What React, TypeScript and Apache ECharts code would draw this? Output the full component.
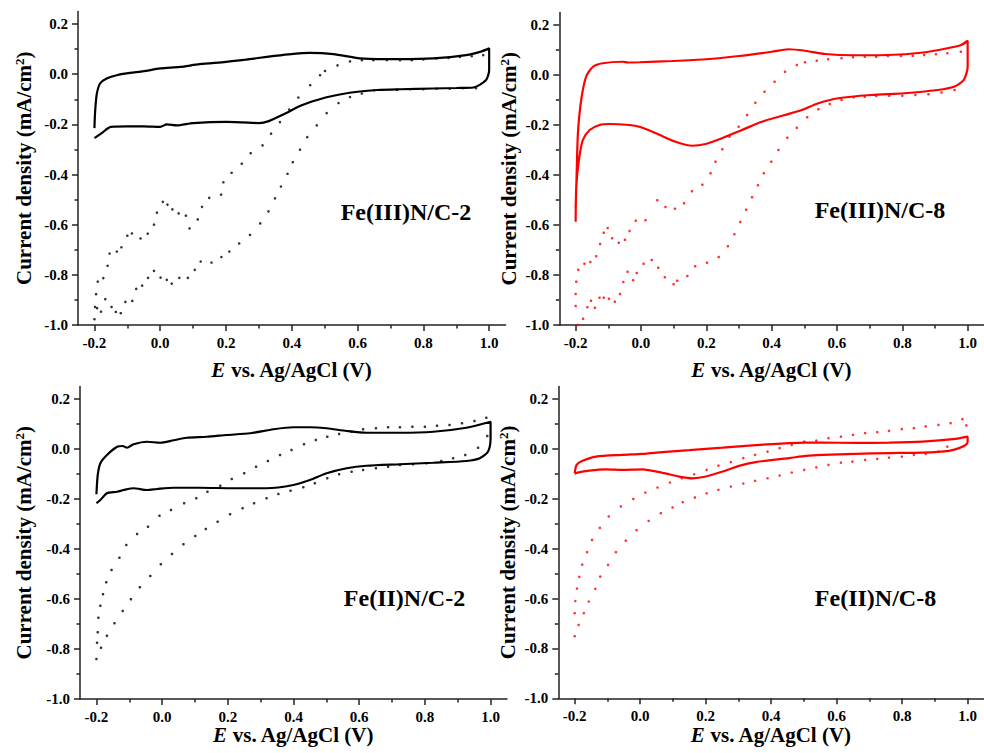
import React, { useEffect, useRef } from 'react';
import * as echarts from 'echarts';

// ---------- tick values ----------
const xTicks = [-0.2, 0, 0.2, 0.4, 0.6, 0.8, 1.0];
const yTicks = [-1.0, -0.8, -0.6, -0.4, -0.2, 0, 0.2];

const panelLabels = ['Fe(III)N/C-2', 'Fe(III)N/C-8', 'Fe(II)N/C-2', 'Fe(II)N/C-8'];
const xTitle = '{i|E}{n| vs. Ag/AgCl (V)}';
const yTitle = 'Current density (mA/cm{s|2})';

// ---------- Panel 1: Fe(III)N/C-2 ----------
const p1Solid = [
  [-0.2, -0.215], [-0.198, -0.15], [-0.193, -0.08], [-0.183, -0.037], [-0.163, -0.017], [-0.13, -0.003],
  [-0.092, 0.005], [-0.05, 0.012], [0.0, 0.023], [0.06, 0.029], [0.12, 0.04], [0.2, 0.049], [0.26, 0.058],
  [0.324, 0.069], [0.39, 0.079], [0.455, 0.085], [0.526, 0.08], [0.607, 0.063], [0.68, 0.06], [0.73, 0.06],
  [0.83, 0.063], [0.93, 0.076], [0.975, 0.09], [1.0, 0.103],
  [1.0, 0.06], [1.0, 0.016], [0.99, -0.024], [0.952, -0.053], [0.9, -0.055], [0.83, -0.057], [0.73, -0.06],
  [0.66, -0.063], [0.6, -0.07], [0.55, -0.08], [0.5, -0.094], [0.43, -0.124], [0.38, -0.157], [0.33, -0.187],
  [0.3, -0.195], [0.25, -0.192], [0.2, -0.19], [0.1, -0.195], [0.05, -0.204], [0.02, -0.2], [0.0, -0.21],
  [-0.05, -0.208], [-0.1, -0.208], [-0.15, -0.21], [-0.18, -0.237], [-0.2, -0.255],
];
const p1Dots = [
  [-0.2, -0.977], [-0.195, -0.877], [-0.19, -0.827], [-0.173, -0.813], [-0.16, -0.764], [-0.154, -0.715],
  [-0.132, -0.707], [-0.118, -0.69], [-0.1, -0.644], [-0.086, -0.635], [-0.06, -0.655], [-0.038, -0.636],
  [-0.019, -0.6], [-0.01, -0.552], [0.008, -0.509], [0.022, -0.52], [0.037, -0.539], [0.056, -0.555],
  [0.078, -0.564], [0.089, -0.615], [0.114, -0.579], [0.127, -0.529], [0.149, -0.493], [0.185, -0.48],
  [0.192, -0.431], [0.217, -0.393], [0.248, -0.357], [0.275, -0.315], [0.311, -0.284], [0.337, -0.237],
  [0.364, -0.191], [0.392, -0.141], [0.42, -0.093], [0.456, -0.044], [0.486, -0.004], [0.501, 0.013],
  [0.539, 0.035], [0.577, 0.051], [0.613, 0.056], [0.648, 0.056], [0.689, 0.056], [0.729, 0.056],
  [0.765, 0.056], [0.8, 0.059], [0.84, 0.063], [0.876, 0.065], [0.911, 0.069], [0.947, 0.072], [0.982, 0.076],
  [0.96, -0.056], [0.92, -0.056], [0.88, -0.058], [0.84, -0.058], [0.8, -0.06], [0.76, -0.06], [0.72, -0.062],
  [0.65, -0.064], [0.613, -0.077], [0.577, -0.091], [0.542, -0.115], [0.506, -0.155], [0.476, -0.204],
  [0.447, -0.251], [0.425, -0.301], [0.403, -0.351], [0.387, -0.397], [0.367, -0.448], [0.349, -0.495],
  [0.329, -0.547], [0.304, -0.595], [0.273, -0.641], [0.24, -0.675], [0.21, -0.707], [0.186, -0.729],
  [0.156, -0.751], [0.123, -0.747], [0.105, -0.78], [0.084, -0.812], [0.058, -0.812], [0.035, -0.835],
  [0.02, -0.82], [0.001, -0.811], [-0.019, -0.784], [-0.037, -0.812], [-0.055, -0.843], [-0.073, -0.856],
  [-0.085, -0.904], [-0.106, -0.908], [-0.12, -0.953], [-0.135, -0.948], [-0.148, -0.928], [-0.167, -0.897],
  [-0.18, -0.947], [-0.192, -0.933], [-0.198, -0.928],
];

// ---------- Panel 2: Fe(III)N/C-8 ----------
const p2Solid = [
  [-0.2, -0.533], [-0.197, -0.4], [-0.193, -0.233], [-0.183, -0.1], [-0.168, -0.007], [-0.147, 0.033],
  [-0.117, 0.047], [-0.056, 0.053], [-0.04, 0.05], [-0.005, 0.051], [0.096, 0.056], [0.198, 0.063],
  [0.3, 0.076], [0.4, 0.093], [0.451, 0.103], [0.502, 0.097], [0.563, 0.084], [0.654, 0.079], [0.756, 0.08],
  [0.857, 0.089], [0.938, 0.107], [0.98, 0.12], [1.0, 0.137],
  [1.0, 0.08], [1.0, 0.033], [0.988, -0.02], [0.958, -0.047], [0.908, -0.06], [0.807, -0.073], [0.705, -0.08],
  [0.604, -0.093], [0.543, -0.113], [0.492, -0.14], [0.441, -0.16], [0.37, -0.187], [0.309, -0.22],
  [0.248, -0.253], [0.198, -0.276], [0.157, -0.283], [0.106, -0.267], [0.046, -0.233], [-0.005, -0.207],
  [-0.036, -0.2], [-0.097, -0.196], [-0.127, -0.2], [-0.157, -0.22], [-0.178, -0.26], [-0.19, -0.34],
  [-0.198, -0.447], [-0.2, -0.587],
];
const p2Dots = [
  [-0.2, -0.924], [-0.2, -0.876], [-0.198, -0.827], [-0.192, -0.779], [-0.173, -0.755], [-0.155, -0.748],
  [-0.137, -0.725], [-0.125, -0.676], [-0.114, -0.631], [-0.102, -0.612], [-0.088, -0.653], [-0.068, -0.671],
  [-0.049, -0.659], [-0.035, -0.624], [-0.016, -0.583], [0.014, -0.581], [0.05, -0.501], [0.075, -0.528],
  [0.104, -0.535], [0.132, -0.513], [0.156, -0.465], [0.188, -0.439], [0.213, -0.393], [0.228, -0.347],
  [0.249, -0.297], [0.271, -0.247], [0.299, -0.207], [0.325, -0.16], [0.35, -0.111], [0.378, -0.067],
  [0.409, -0.027], [0.441, 0.013], [0.477, 0.04], [0.502, 0.051], [0.538, 0.057], [0.573, 0.063],
  [0.614, 0.067], [0.649, 0.071], [0.685, 0.073], [0.72, 0.073], [0.756, 0.076], [0.796, 0.076],
  [0.832, 0.077], [0.867, 0.08], [0.903, 0.083], [0.938, 0.087], [0.979, 0.093],
  [0.96, -0.06], [0.92, -0.07], [0.88, -0.077], [0.84, -0.08], [0.8, -0.083], [0.76, -0.083], [0.72, -0.084],
  [0.685, -0.087], [0.651, -0.089], [0.614, -0.1], [0.578, -0.116], [0.543, -0.137], [0.509, -0.169],
  [0.477, -0.211], [0.448, -0.251], [0.421, -0.3], [0.399, -0.347], [0.376, -0.393], [0.358, -0.441],
  [0.34, -0.489], [0.322, -0.539], [0.304, -0.588], [0.286, -0.637], [0.266, -0.685], [0.238, -0.728],
  [0.202, -0.751], [0.166, -0.765], [0.142, -0.804], [0.111, -0.823], [0.1, -0.837], [0.073, -0.809],
  [0.053, -0.771], [0.033, -0.74], [0.008, -0.755], [-0.013, -0.792], [-0.024, -0.821], [-0.041, -0.787],
  [-0.054, -0.828], [-0.064, -0.876], [-0.08, -0.907], [-0.098, -0.895], [-0.114, -0.891], [-0.127, -0.891],
  [-0.141, -0.931], [-0.153, -0.903], [-0.164, -0.929], [-0.177, -0.975], [-0.194, -1.0],
];

// ---------- Panel 3: Fe(II)N/C-2 ----------
const p3Solid = [
  [-0.2, -0.181], [-0.196, -0.104], [-0.188, -0.057], [-0.168, -0.024], [-0.137, 0.009], [-0.12, 0.012],
  [-0.107, 0.005], [-0.087, 0.019], [-0.046, 0.029], [-0.006, 0.025], [0.035, 0.035], [0.075, 0.045],
  [0.136, 0.049], [0.197, 0.056], [0.268, 0.063], [0.339, 0.079], [0.4, 0.087], [0.45, 0.087], [0.501, 0.083],
  [0.562, 0.072], [0.622, 0.065], [0.724, 0.065], [0.825, 0.069], [0.926, 0.085], [1.0, 0.109],
  [1.0, 0.043], [0.992, -0.011], [0.967, -0.037], [0.926, -0.048], [0.825, -0.055], [0.724, -0.061],
  [0.622, -0.067], [0.562, -0.077], [0.501, -0.097], [0.45, -0.124], [0.4, -0.144], [0.318, -0.157],
  [0.217, -0.157], [0.116, -0.155], [0.035, -0.155], [-0.016, -0.16], [-0.046, -0.164], [-0.087, -0.157],
  [-0.117, -0.164], [-0.137, -0.171], [-0.168, -0.177], [-0.188, -0.204], [-0.2, -0.217],
];
const p3Dots = [
  [-0.2, -0.84], [-0.198, -0.775], [-0.196, -0.733], [-0.194, -0.675], [-0.188, -0.627], [-0.18, -0.581],
  [-0.17, -0.533], [-0.154, -0.484], [-0.13, -0.435], [-0.109, -0.384], [-0.076, -0.34], [-0.043, -0.311],
  [-0.008, -0.267], [0.027, -0.244], [0.067, -0.217], [0.104, -0.197], [0.138, -0.171], [0.177, -0.147],
  [0.212, -0.12], [0.25, -0.097], [0.286, -0.071], [0.322, -0.048], [0.359, -0.024], [0.394, -0.004],
  [0.432, 0.019], [0.468, 0.036], [0.503, 0.049], [0.539, 0.06], [0.577, 0.069], [0.612, 0.079],
  [0.651, 0.083], [0.688, 0.087], [0.724, 0.087], [0.762, 0.089], [0.8, 0.089], [0.837, 0.093],
  [0.875, 0.096], [0.913, 0.103], [0.951, 0.112], [0.987, 0.125],
  [0.99, 0.052], [0.962, 0.005], [0.923, -0.024], [0.886, -0.037], [0.85, -0.048], [0.805, -0.057],
  [0.764, -0.061], [0.724, -0.064], [0.688, -0.071], [0.651, -0.077], [0.612, -0.084], [0.577, -0.091],
  [0.539, -0.101], [0.503, -0.117], [0.465, -0.137], [0.43, -0.153], [0.391, -0.167], [0.354, -0.18],
  [0.318, -0.197], [0.28, -0.217], [0.245, -0.237], [0.207, -0.261], [0.169, -0.291], [0.133, -0.32],
  [0.101, -0.348], [0.065, -0.381], [0.03, -0.42], [-0.004, -0.461], [-0.036, -0.508], [-0.068, -0.553],
  [-0.095, -0.601], [-0.12, -0.648], [-0.145, -0.697], [-0.168, -0.747], [-0.186, -0.795],
];

// ---------- Panel 4: Fe(II)N/C-8 ----------
const p4Solid = [
  [-0.2, -0.098], [-0.194, -0.064], [-0.176, -0.048], [-0.135, -0.031], [-0.054, -0.024], [0.007, -0.02],
  [0.068, -0.013], [0.15, -0.005], [0.252, 0.005], [0.353, 0.015], [0.455, 0.023], [0.506, 0.025],
  [0.557, 0.025], [0.658, 0.024], [0.76, 0.025], [0.862, 0.029], [0.963, 0.04], [1.0, 0.049],
  [1.0, 0.029], [0.994, 0.016], [0.974, 0.003], [0.943, -0.008], [0.862, -0.015], [0.76, -0.017],
  [0.658, -0.02], [0.557, -0.024], [0.506, -0.028], [0.455, -0.037], [0.353, -0.053], [0.302, -0.068],
  [0.252, -0.091], [0.201, -0.111], [0.16, -0.118], [0.119, -0.111], [0.068, -0.096], [0.007, -0.082],
  [-0.054, -0.084], [-0.104, -0.082], [-0.155, -0.087], [-0.191, -0.095], [-0.2, -0.1],
];
const p4Dots = [
  [-0.2, -0.751], [-0.2, -0.659], [-0.198, -0.61], [-0.193, -0.56], [-0.186, -0.513], [-0.177, -0.464],
  [-0.162, -0.414], [-0.147, -0.365], [-0.123, -0.317], [-0.096, -0.271], [-0.059, -0.231], [-0.021, -0.201],
  [0.016, -0.175], [0.053, -0.155], [0.091, -0.135], [0.127, -0.118], [0.165, -0.102], [0.203, -0.084],
  [0.239, -0.067], [0.277, -0.053], [0.315, -0.037], [0.351, -0.024], [0.389, -0.011], [0.426, 0.003],
  [0.463, 0.016], [0.501, 0.029], [0.538, 0.033], [0.575, 0.043], [0.613, 0.049], [0.65, 0.056],
  [0.687, 0.063], [0.724, 0.067], [0.76, 0.072], [0.799, 0.079], [0.836, 0.083], [0.872, 0.09],
  [0.911, 0.096], [0.948, 0.103], [0.984, 0.119], [0.996, 0.094],
  [0.938, 0.009], [0.911, -0.011], [0.872, -0.02], [0.836, -0.024], [0.799, -0.031], [0.76, -0.035],
  [0.724, -0.04], [0.687, -0.044], [0.648, -0.051], [0.613, -0.055], [0.575, -0.064], [0.538, -0.074],
  [0.501, -0.084], [0.463, -0.095], [0.426, -0.107], [0.389, -0.118], [0.351, -0.128], [0.315, -0.139],
  [0.277, -0.151], [0.239, -0.164], [0.203, -0.178], [0.167, -0.195], [0.13, -0.214], [0.099, -0.235],
  [0.063, -0.258], [0.026, -0.289], [-0.011, -0.326], [-0.044, -0.368], [-0.074, -0.414], [-0.098, -0.465],
  [-0.122, -0.512], [-0.137, -0.561], [-0.157, -0.612], [-0.172, -0.659], [-0.188, -0.706],
];

const solids = [p1Solid, p2Solid, p3Solid, p4Solid];
const dots = [p1Dots, p2Dots, p3Dots, p4Dots];

// ---------- layout / style ----------
const FONT = "'Liberation Serif', 'Times New Roman', serif";
const colors = ['#000000', '#ff0000', '#000000', '#ff0000'];
const grids = [
  { left: 78, top: 11.5, width: 427.6, height: 313.5 },
  { left: 559.3, top: 12.5, width: 427.3, height: 312.5 },
  { left: 80, top: 386.5, width: 427, height: 312.5 },
  { left: 558.3, top: 386.5, width: 427.4, height: 311.8 },
];
const xNameGaps = [34, 34, 24, 24];
const yNameGaps = [44, 40, 46, 40];
const labelPos = [
  [406, 212],
  [880, 210],
  [404.5, 598],
  [875.5, 598],
];

const axisLineStyle = { color: '#222', width: 1.5 };

function makeX(i: number) {
  return {
    type: 'value',
    gridIndex: i,
    min: -0.25,
    max: 1.05,
    splitNumber: 6,
    name: xTitle,
    nameLocation: 'middle',
    nameGap: xNameGaps[i],
    nameTextStyle: {
      rich: {
        i: { fontStyle: 'italic', fontWeight: 'bold', fontSize: 21, fontFamily: FONT, color: '#000' },
        n: { fontWeight: 'bold', fontSize: 21, fontFamily: FONT, color: '#000' },
      },
    },
    axisLine: { show: true, onZero: false, lineStyle: axisLineStyle },
    axisTick: { show: true, inside: false, length: 6, customValues: xTicks, lineStyle: axisLineStyle },
    minorTick: { show: true, splitNumber: 2, length: 3.5, lineStyle: axisLineStyle },
    axisLabel: {
      customValues: xTicks,
      formatter: (v: number) => v.toFixed(1),
      fontSize: 15,
      fontWeight: 'bold',
      fontFamily: FONT,
      color: '#000',
      margin: 10,
    },
    splitLine: { show: false },
    minorSplitLine: { show: false },
  };
}

function makeY(i: number) {
  return {
    type: 'value',
    gridIndex: i,
    min: -1.0,
    max: 0.25,
    splitNumber: 6,
    name: yTitle,
    nameLocation: 'middle',
    nameGap: yNameGaps[i],
    nameTextStyle: {
      fontWeight: 'bold',
      fontSize: 21,
      fontFamily: FONT,
      color: '#000',
      rich: {
        s: { fontWeight: 'bold', fontSize: 13, fontFamily: FONT, color: '#000', verticalAlign: 'top' },
      },
    },
    axisLine: { show: true, onZero: false, lineStyle: axisLineStyle },
    axisTick: { show: true, inside: false, length: 6, customValues: yTicks, lineStyle: axisLineStyle },
    minorTick: { show: true, splitNumber: 2, length: 3.5, lineStyle: axisLineStyle },
    axisLabel: {
      customValues: yTicks,
      formatter: (v: number) => v.toFixed(1),
      fontSize: 15,
      fontWeight: 'bold',
      fontFamily: FONT,
      color: '#000',
      margin: 10,
    },
    splitLine: { show: false },
    minorSplitLine: { show: false },
  };
}

export default function App() {
  const ref = useRef<HTMLDivElement>(null);
  useEffect(() => {
    if (!ref.current) return;
    const chart = echarts.init(ref.current, undefined, { renderer: 'svg' });
    const series: any[] = [];
    for (let i = 0; i < 4; i++) {
      series.push({
        type: 'scatter',
        xAxisIndex: i,
        yAxisIndex: i,
        data: dots[i],
        symbol: 'circle',
        symbolSize: 2.6,
        itemStyle: { color: colors[i] },
        silent: true,
      });
      series.push({
        type: 'line',
        xAxisIndex: i,
        yAxisIndex: i,
        data: solids[i],
        showSymbol: false,
        smooth: 0.25,
        lineStyle: { color: colors[i], width: 2.2 },
        silent: true,
      });
    }
    chart.setOption({
      animation: false,
      backgroundColor: '#ffffff',
      grid: grids.map((g) => ({ ...g, containLabel: false })),
      xAxis: [0, 1, 2, 3].map(makeX),
      yAxis: [0, 1, 2, 3].map(makeY),
      series,
      graphic: labelPos.map((p, i) => ({
        type: 'text',
        x: p[0],
        y: p[1],
        style: {
          text: panelLabels[i],
          fontSize: 24,
          fontWeight: 'bold',
          fontFamily: FONT,
          fill: '#000',
          align: 'center',
          verticalAlign: 'middle',
        },
      })),
    });
    return () => chart.dispose();
  }, []);
  return (
    <div
      ref={ref}
      style={{ position: 'fixed', left: 0, top: 0, width: 984, height: 753, background: '#fff' }}
    />
  );
}
